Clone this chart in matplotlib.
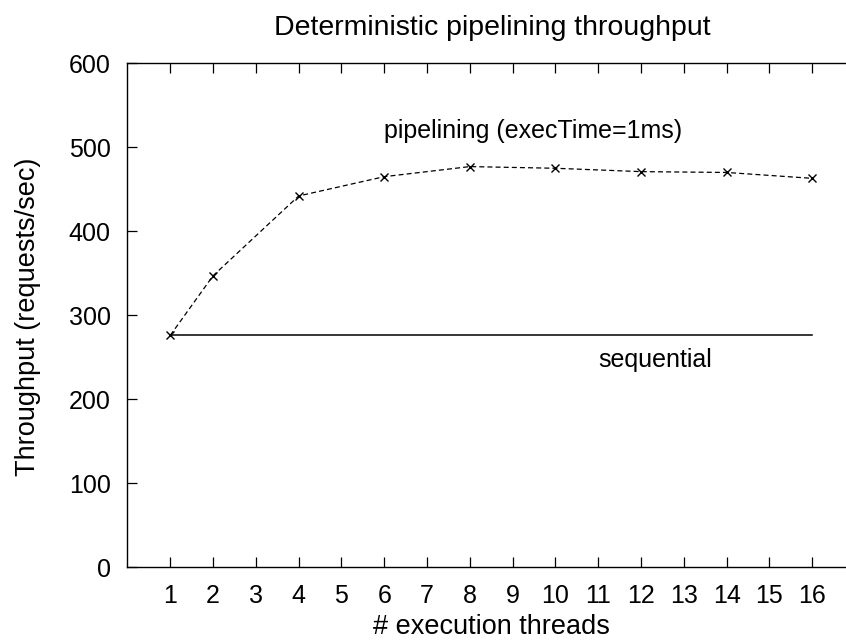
import matplotlib
matplotlib.use("Agg")
import matplotlib.pyplot as plt

# pipelining throughput, execTime=1ms
threads = [1, 2, 4, 6, 8, 10, 12, 14, 16]
pipelining = [276, 347, 442, 465, 477, 475, 471, 470, 463]
# sequential baseline
seq_x = [1, 16]
seq_y = [276, 276]

xticks = list(range(1, 17))
yticks = [0, 100, 200, 300, 400, 500, 600]

plt.rcParams['font.family'] = ['Liberation Sans', 'DejaVu Sans']
plt.rcParams['font.size'] = 18

fig = plt.figure(figsize=(8.46, 6.41), dpi=100)
ax = fig.add_axes([0.1507, 0.1154, 0.8493, 0.7858])

ax.plot(threads, pipelining, color='black', lw=0.9, linestyle=(0, (4, 2.5)),
        marker='x', markersize=6, markeredgewidth=1)
ax.plot(seq_x, seq_y, color='black', lw=1.1)

ax.text(9.47, 519, 'pipelining (execTime=1ms)', ha='center', va='center')
ax.text(12.32, 247, 'sequential', ha='center', va='center')

ax.set_xlim(0, 16.79)
ax.set_ylim(0, 600)
ax.set_xticks(xticks)
ax.set_yticks(yticks)
ax.tick_params(direction='in', length=7, width=0.9, top=True, right=False, pad=12)
ax.tick_params(axis='x', pad=12)
ax.spines['right'].set_visible(False)
for s in ['top', 'bottom', 'left']:
    ax.spines[s].set_linewidth(1.0)

fig.text(492/846, 1 - 28/641, 'Deterministic pipelining throughput', ha='center', va='center', fontsize=20.5)
fig.text(491/846, 1 - 627/641, '# execution threads', ha='center', va='center', fontsize=19.5)
fig.text(28/846, 1 - 317/641, 'Throughput (requests/sec)', ha='center', va='center', rotation=90, fontsize=19.5)

fig.savefig('out.png', dpi=100)
